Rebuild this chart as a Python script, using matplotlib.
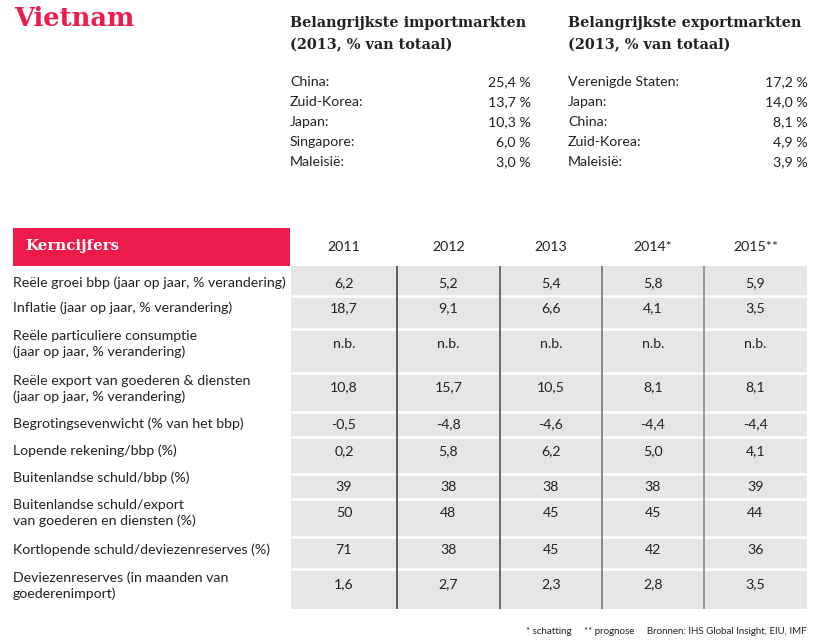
import matplotlib
matplotlib.use("Agg")
import matplotlib.pyplot as plt
from matplotlib.patches import Rectangle

# ---------------- data ----------------
title = "Vietnam"
import_header = ["Belangrijkste importmarkten", "(2013, % van totaal)"]
export_header = ["Belangrijkste exportmarkten", "(2013, % van totaal)"]
import_countries = ["China:", "Zuid-Korea:", "Japan:", "Singapore:", "Maleisië:"]
import_values = ["25,4 %", "13,7 %", "10,3 %", "6,0 %", "3,0 %"]
export_countries = ["Verenigde Staten:", "Japan:", "China:", "Zuid-Korea:", "Maleisië:"]
export_values = ["17,2 %", "14,0 %", "8,1 %", "4,9 %", "3,9 %"]

table_title = "Kerncijfers"
years = ["2011", "2012", "2013", "2014*", "2015**"]
row_labels = [
    "Reële groei bbp (jaar op jaar, % verandering)",
    "Inflatie (jaar op jaar, % verandering)",
    "Reële particuliere consumptie\n(jaar op jaar, % verandering)",
    "Reële export van goederen & diensten\n(jaar op jaar, % verandering)",
    "Begrotingsevenwicht (% van het bbp)",
    "Lopende rekening/bbp (%)",
    "Buitenlandse schuld/bbp (%)",
    "Buitenlandse schuld/export\nvan goederen en diensten (%)",
    "Kortlopende schuld/deviezenreserves (%)",
    "Deviezenreserves (in maanden van\ngoederenimport)",
]
v2011 = ["6,2", "18,7", "n.b.", "10,8", "-0,5", "0,2", "39", "50", "71", "1,6"]
v2012 = ["5,2", "9,1", "n.b.", "15,7", "-4,8", "5,8", "38", "48", "38", "2,7"]
v2013 = ["5,4", "6,6", "n.b.", "10,5", "-4,6", "6,2", "38", "45", "45", "2,3"]
v2014 = ["5,8", "4,1", "n.b.", "8,1", "-4,4", "5,0", "38", "45", "42", "2,8"]
v2015 = ["5,9", "3,5", "n.b.", "8,1", "-4,4", "4,1", "39", "44", "36", "3,5"]
footnote = "* schatting     ** prognose     Bronnen: IHS Global Insight, EIU, IMF"

# ---------------- layout ----------------
W, H = 817, 642
RED = "#EC1B4B"
GRAY = "#E6E6E8"
BODY = ["Lato", "DejaVu Sans"]
SERIF = ["DejaVu Serif", "Liberation Serif"]
FS = 10.2

fig = plt.figure(figsize=(W / 100, H / 100), dpi=100)
ax = fig.add_axes([0, 0, 1, 1])
ax.set_xlim(0, W)
ax.set_ylim(H, 0)
ax.axis("off")

# title
ax.text(14, 19, title, color=RED, fontsize=18.5, fontweight="bold",
        family=SERIF, va="center", ha="left")

# market headers
for x0, hdr in [(290, import_header), (568, export_header)]:
    ax.text(x0, 23, hdr[0], fontsize=10.4, fontweight="bold", family=SERIF,
            va="center", ha="left", color="#222222")
    ax.text(x0, 45, hdr[1], fontsize=10.4, fontweight="bold", family=SERIF,
            va="center", ha="left", color="#222222")

list_y = [82, 102, 122, 142, 162]
for i, y in enumerate(list_y):
    ax.text(290, y, import_countries[i], fontsize=FS, family=BODY, va="center", ha="left", color="#222222")
    ax.text(531, y, import_values[i], fontsize=FS, family=BODY, va="center", ha="right", color="#222222")
    ax.text(568, y, export_countries[i], fontsize=FS, family=BODY, va="center", ha="left", color="#222222")
    ax.text(808, y, export_values[i], fontsize=FS, family=BODY, va="center", ha="right", color="#222222")

# table header
ax.add_patch(Rectangle((13, 228), 277, 38, facecolor=RED, edgecolor="none"))
ax.text(25, 246, table_title, color="white", fontsize=10.8, fontweight="bold",
        family=SERIF, va="center", ha="left")

col_edges = [291, 397, 500, 602, 704, 807]
col_centers = [(col_edges[i] + col_edges[i + 1]) / 2 for i in range(5)]
for c, yr in zip(col_centers, years):
    ax.text(c, 247, yr, fontsize=FS, family=BODY, va="center", ha="center", color="#222222")

row_edges = [266, 296, 329, 373, 412, 437, 474, 499, 537, 569, 609]
ax.add_patch(Rectangle((291, 266), 807 - 291, 609 - 266, facecolor=GRAY, edgecolor="none"))
for y in row_edges[1:-1]:
    ax.plot([291, 807], [y, y], color="white", lw=1.8, solid_capstyle="butt")
line_colors = ["#444444", "#555555", "#777777", "#8a8a8a"]
for x, lc in zip(col_edges[1:-1], line_colors):
    ax.plot([x, x], [266, 609], color=lc, lw=1.2, solid_capstyle="butt")

# row label / value vertical positions (labels sometimes sit above the value)
label_y = [283, 308, 344, 389, 424, 451, 478, 513, 550, 586]
value_y = [283, 308, 344, 387, 424, 451, 487, 513, 550, 584]
cols = [v2011, v2012, v2013, v2014, v2015]
for r, lab in enumerate(row_labels):
    ax.text(13, label_y[r], lab, fontsize=FS, family=BODY, va="center", ha="left",
            color="#222222", linespacing=1.35)
    for c, vals in enumerate(cols):
        ax.text(col_centers[c], value_y[r], vals[r], fontsize=FS, family=BODY,
                va="center", ha="center", color="#222222")

ax.text(807, 631, footnote, fontsize=7, family=BODY, va="center", ha="right", color="#222222")

fig.savefig("out.png", dpi=100)
